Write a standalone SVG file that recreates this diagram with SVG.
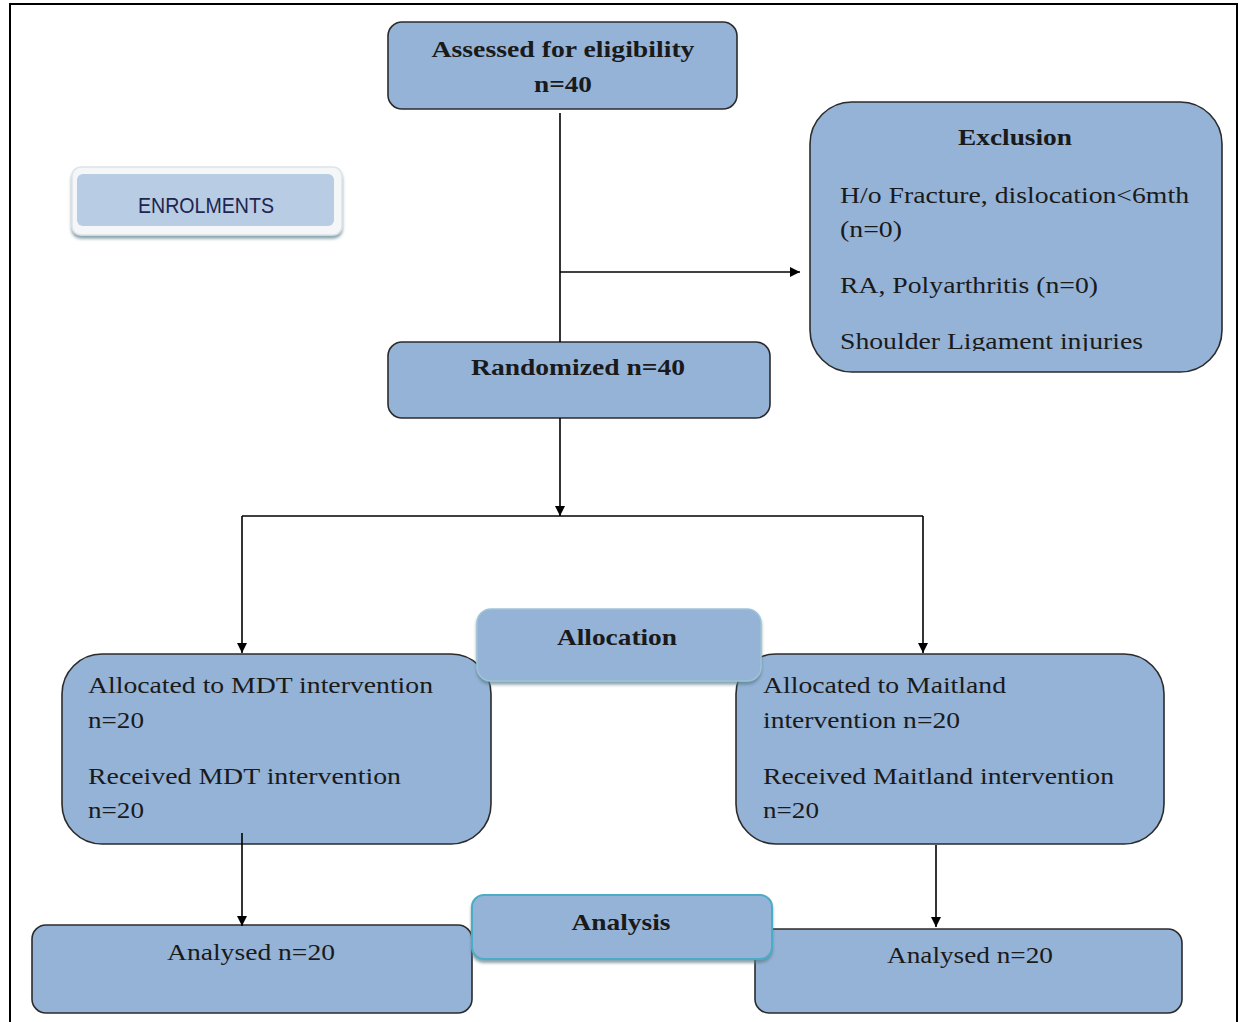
<svg xmlns="http://www.w3.org/2000/svg" width="1239" height="1022" viewBox="0 0 1239 1022">
<style>
.box{fill:#95b3d7;stroke:#2b2b2b;stroke-width:1.6}
.hdr{fill:#95b3d7;stroke:#9fc3d6;stroke-width:1.5}
.hdr2{fill:#95b3d7;stroke:#4bacc6;stroke-width:2}
.t{font-family:"Liberation Serif","Times New Roman",serif;font-size:23px;fill:#1a1a1a}
.b{font-family:"Liberation Serif","Times New Roman",serif;font-size:24px;font-weight:bold;fill:#1a1a1a}
.c{text-anchor:middle}
.conn{stroke:#000;stroke-width:1.6;fill:none}
</style>
<defs>
<marker id="arr" viewBox="0 0 10 10" refX="10" refY="5" markerWidth="10" markerHeight="10" markerUnits="userSpaceOnUse" orient="auto">
<path d="M0,0 L10,5 L0,10 z" fill="#000"/>
</marker>
<filter id="sh" x="-10%" y="-10%" width="120%" height="140%">
<feDropShadow dx="0" dy="3" stdDeviation="1.5" flood-color="#5a7f8c" flood-opacity="0.7"/>
</filter>
<clipPath id="clipEx"><rect x="810" y="100" width="412" height="251"/></clipPath>
</defs>
<rect x="10" y="4" width="1227" height="1040" fill="none" stroke="#000" stroke-width="2"/>

<g id="enrolments">
<rect x="72" y="167" width="270" height="68" rx="9" fill="#f4f6f8" stroke="#dde3e8" stroke-width="1.5" filter="url(#sh)"/>
<rect x="77" y="174" width="257" height="52" rx="6" fill="#b8cce4"/>
<text x="206" y="213" class="c" font-family="'Liberation Sans',Arial,sans-serif" font-size="22" fill="#1f2550" textLength="136" lengthAdjust="spacingAndGlyphs">ENROLMENTS</text>
</g>

<g id="assessed">
<rect class="box" x="388" y="22" width="349" height="87" rx="14"/>
<text class="b c" x="563" y="57" textLength="263" lengthAdjust="spacingAndGlyphs">Assessed for eligibility</text>
<text class="b c" x="563" y="92" textLength="58" lengthAdjust="spacingAndGlyphs">n=40</text>
</g>

<g id="exclusion">
<rect class="box" x="810" y="102" width="412" height="270" rx="42"/>
<text class="b c" x="1015" y="145" textLength="114" lengthAdjust="spacingAndGlyphs">Exclusion</text>
<text class="t" x="840" y="203" textLength="349" lengthAdjust="spacingAndGlyphs">H/o Fracture, dislocation&lt;6mth</text>
<text class="t" x="840" y="237" textLength="62" lengthAdjust="spacingAndGlyphs">(n=0)</text>
<text class="t" x="840" y="293" textLength="258" lengthAdjust="spacingAndGlyphs">RA, Polyarthritis (n=0)</text>
<text class="t" x="840" y="349" textLength="303" lengthAdjust="spacingAndGlyphs" clip-path="url(#clipEx)">Shoulder Ligament injuries</text>
</g>

<g id="randomized">
<rect class="box" x="388" y="342" width="382" height="76" rx="14"/>
<text class="b c" x="578" y="375" textLength="214" lengthAdjust="spacingAndGlyphs">Randomized n=40</text>
</g>

<g id="mdt">
<rect class="box" x="62" y="654" width="429" height="190" rx="40"/>
<text class="t" x="88" y="693" textLength="345" lengthAdjust="spacingAndGlyphs">Allocated to MDT intervention</text>
<text class="t" x="88" y="728" textLength="56" lengthAdjust="spacingAndGlyphs">n=20</text>
<text class="t" x="88" y="784" textLength="313" lengthAdjust="spacingAndGlyphs">Received MDT intervention</text>
<text class="t" x="88" y="818" textLength="56" lengthAdjust="spacingAndGlyphs">n=20</text>
</g>

<g id="maitland">
<rect class="box" x="736" y="654" width="428" height="190" rx="40"/>
<text class="t" x="763" y="693" textLength="243" lengthAdjust="spacingAndGlyphs">Allocated to Maitland</text>
<text class="t" x="763" y="728" textLength="197" lengthAdjust="spacingAndGlyphs">intervention n=20</text>
<text class="t" x="763" y="784" textLength="351" lengthAdjust="spacingAndGlyphs">Received Maitland intervention</text>
<text class="t" x="763" y="818" textLength="56" lengthAdjust="spacingAndGlyphs">n=20</text>
</g>

<g id="analysed-left">
<rect class="box" x="32" y="925" width="440" height="88" rx="14"/>
<text class="t c" x="251" y="960" textLength="168" lengthAdjust="spacingAndGlyphs">Analysed n=20</text>
</g>

<g id="analysed-right">
<rect class="box" x="755" y="929" width="427" height="84" rx="14"/>
<text class="t c" x="970" y="963" textLength="166" lengthAdjust="spacingAndGlyphs">Analysed n=20</text>
</g>

<g id="connectors">
<line class="conn" x1="560" y1="113" x2="560" y2="342"/>
<line class="conn" x1="560" y1="272" x2="800" y2="272" marker-end="url(#arr)"/>
<line class="conn" x1="560" y1="418" x2="560" y2="516" marker-end="url(#arr)"/>
<line class="conn" x1="242" y1="516" x2="923" y2="516"/>
<line class="conn" x1="242" y1="516" x2="242" y2="653" marker-end="url(#arr)"/>
<line class="conn" x1="923" y1="516" x2="923" y2="653" marker-end="url(#arr)"/>
<line class="conn" x1="242" y1="833" x2="242" y2="926" marker-end="url(#arr)"/>
<line class="conn" x1="936" y1="845" x2="936" y2="927" marker-end="url(#arr)"/>
</g>

<g id="allocation">
<rect class="hdr" x="477" y="609" width="284" height="72" rx="14" filter="url(#sh)"/>
<text class="b c" x="617" y="645" textLength="120" lengthAdjust="spacingAndGlyphs">Allocation</text>
</g>

<g id="analysis">
<rect class="hdr2" x="472" y="895" width="300" height="64" rx="12" filter="url(#sh)"/>
<text class="b c" x="621" y="930" textLength="99" lengthAdjust="spacingAndGlyphs">Analysis</text>
</g>
</svg>
